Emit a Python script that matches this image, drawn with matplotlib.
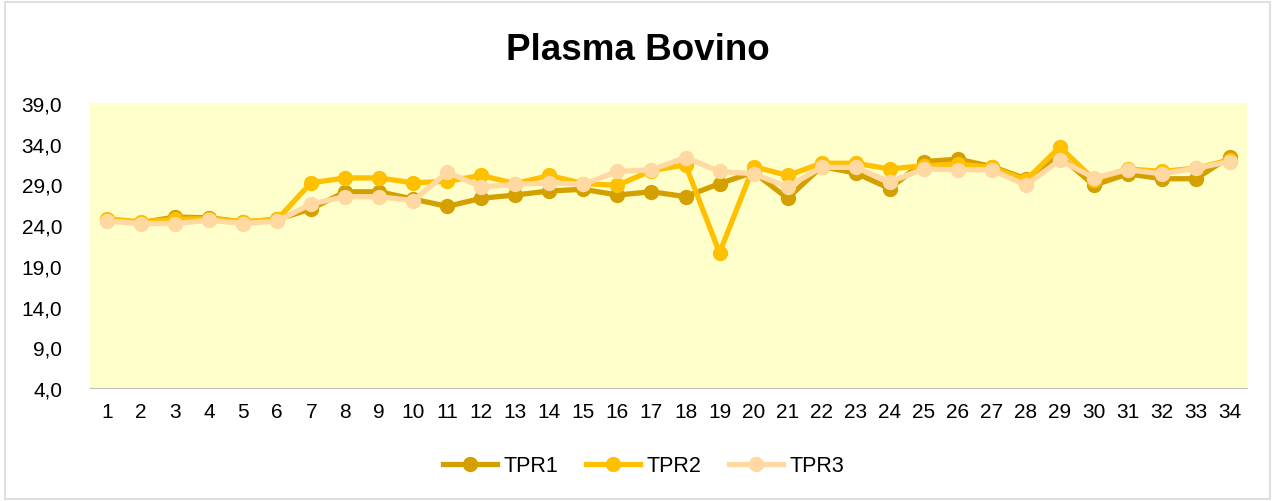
import numpy as np
import matplotlib
matplotlib.use('Agg')
import matplotlib.pyplot as plt
from matplotlib.ticker import FuncFormatter
from matplotlib.patches import Rectangle

plt.rcParams['font.family'] = ['Liberation Sans', 'DejaVu Sans']

categories = [str(i) for i in range(1, 35)]

tpr1 = [24.6, 24.3, 25.0, 24.9, 24.4, 24.7, 26.0, 28.1, 28.1, 27.2,
        26.3, 27.3, 27.7, 28.2, 28.4, 27.7, 28.1, 27.5, 29.1, 30.5,
        27.3, 31.2, 30.4, 28.5, 31.8, 32.1, 31.2, 29.7, 32.5, 28.9,
        30.3, 29.7, 29.7, 32.4]
tpr2 = [24.8, 24.4, 24.7, 24.8, 24.4, 24.7, 29.2, 29.8, 29.8, 29.2,
        29.4, 30.1, 29.1, 30.1, 29.1, 28.9, 30.7, 31.4, 20.6, 31.2,
        30.1, 31.6, 31.6, 30.9, 31.3, 31.5, 31.1, 29.5, 33.6, 29.6,
        30.9, 30.6, 31.0, 32.0]
tpr3 = [24.5, 24.2, 24.2, 24.6, 24.2, 24.5, 26.6, 27.5, 27.5, 27.0,
        30.5, 28.7, 29.0, 29.2, 29.0, 30.6, 30.8, 32.3, 30.6, 30.3,
        28.7, 31.1, 31.1, 29.3, 30.9, 30.8, 30.8, 28.9, 32.0, 29.8,
        30.8, 30.3, 31.0, 31.8]

series = [('TPR1', tpr1, '#D4A000'), ('TPR2', tpr2, '#FFC000'), ('TPR3', tpr3, '#FFD8A2')]

fig = plt.figure(figsize=(12.75, 5.02), dpi=100)
fig.patches.append(Rectangle((0.004, 0.004), 0.992, 0.99, transform=fig.transFigure,
                             fill=False, edgecolor='#D9D9D9', linewidth=1.2))
ax = fig.add_axes([90 / 1275, 1 - 389 / 502, (1247 - 90) / 1275, (389 - 104) / 502])
ax.set_facecolor('#FFFFCC')

x = np.arange(len(categories))
for name, vals, col in series:
    ax.plot(x, vals, color=col, linewidth=3.8, marker='o', markersize=10, label=name)

ax.set_xlim(-0.5, len(categories) - 0.5)
ax.set_ylim(4.0, 39.0)
ax.set_yticks(np.arange(4.0, 39.1, 5.0))
ax.yaxis.set_major_formatter(FuncFormatter(lambda v, p: ('%.1f' % v).replace('.', ',')))
ax.set_xticks(x)
ax.set_xticklabels(categories)
ax.tick_params(axis='both', length=0, labelsize=15, colors='black')
ax.tick_params(axis='y', pad=20)
ax.tick_params(axis='x', pad=10)
for s in ['top', 'right', 'left']:
    ax.spines[s].set_visible(False)
ax.spines['bottom'].set_color('#BFBFBF')

fig.text(0.5, 1 - 51 / 502, 'Plasma Bovino', ha='center', va='center', fontsize=26.5, fontweight='bold')
fig.legend(loc='center', bbox_to_anchor=(0.505, 1 - 467 / 502), ncol=3, frameon=False,
           fontsize=15.5, handlelength=2.5, columnspacing=1.3, handletextpad=0.3)

fig.savefig('out.png', dpi=100)
